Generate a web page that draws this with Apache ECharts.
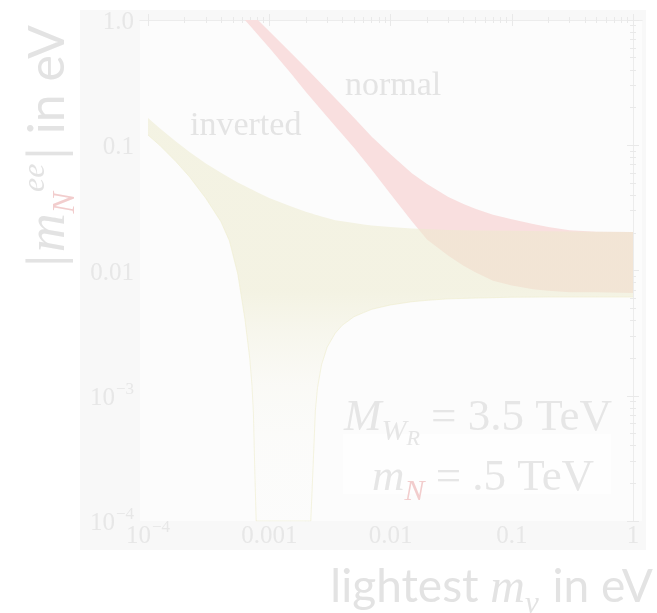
<!DOCTYPE html>
<html>
<head>
<meta charset="utf-8">
<script src="https://cdn.jsdelivr.net/npm/echarts@6/dist/echarts.min.js"></script>
<style>
  html, body { margin: 0; padding: 0; background: #ffffff; }
  #chart { width: 657px; height: 613px; }
</style>
</head>
<body>
<div id="chart"></div>
<script>
// Lightest neutrino mass (eV) sampled along the inverted-ordering band
const invertedMass = [1e-4, 1.25e-4, 1.7e-4, 2.2e-4, 3e-4, 4e-4, 4.7e-4, 5.5e-4, 6.3e-4, 6.9e-4,
  7.2e-4, 7.4e-4, 7.6e-4, 7.8e-4, 1e-3, 1.5e-3, 2e-3, 2.1e-3, 2.2e-3, 2.25e-3,
  2.3e-3, 2.4e-3, 2.5e-3, 2.7e-3, 3e-3, 3.5e-3, 4e-3, 5e-3, 6e-3, 7e-3,
  0.01, 0.015, 0.02, 0.03, 0.05, 0.1, 0.2, 0.5, 1];
// |m_N^ee| upper and lower edges (eV), inverted ordering
const invertedUpper = [0.1651, 0.1370, 0.1072, 0.0883, 0.0715, 0.0604, 0.0549, 0.0505, 0.0473, 0.0452,
  0.0443, 0.0438, 0.0432, 0.0426, 0.0380, 0.0326, 0.0295, 0.0290, 0.0286, 0.0285,
  0.0283, 0.0279, 0.0276, 0.0270, 0.0262, 0.0252, 0.0247, 0.0239, 0.0233, 0.0229,
  0.0222, 0.0216, 0.0214, 0.0211, 0.0209, 0.0208, 0.0206, 0.0204, 0.0203];
const invertedLower = [0.1207, 0.0999, 0.0741, 0.0560, 0.0377, 0.0245, 0.0172, 0.0094, 0.0041, 0.0020,
  0.00121, 0.00073, 0.00025, 1e-4, 1e-4, 1e-4, 1e-4, 1e-4, 1e-4, 1e-4,
  0.000275, 0.00076, 0.00116, 0.00177, 0.00244, 0.00316, 0.00365, 0.00428, 0.00461, 0.00490,
  0.00531, 0.00563, 0.00578, 0.00594, 0.00602, 0.00612, 0.00614, 0.00614, 0.00614];

// Lightest neutrino mass (eV) sampled along the normal-ordering band
const normalMass = [5e-4, 7e-4, 1e-3, 1.5e-3, 2e-3, 3e-3, 4e-3, 5e-3, 7e-3, 0.01,
  0.015, 0.02, 0.03, 0.04, 0.05, 0.07, 0.1, 0.15, 0.2, 0.3, 0.5, 1];
const normalUpper = [1.58, 1.148, 0.813, 0.549, 0.415, 0.277, 0.208, 0.166, 0.117, 0.0848,
  0.0597, 0.0491, 0.0387, 0.0340, 0.0311, 0.0279, 0.0257, 0.0235, 0.0222, 0.0210, 0.0204, 0.0203];
const normalLower = [1.29, 0.891, 0.601, 0.377, 0.268, 0.169, 0.1225, 0.0953, 0.0637, 0.0409,
  0.0247, 0.0177, 0.0131, 0.0109, 0.0097, 0.0083, 0.0076, 0.0071, 0.0069, 0.0067, 0.0067, 0.0066];

// Decade ticks and their labels
const xMajorTicks = [1e-4, 1e-3, 0.01, 0.1, 1];
const xTickLabels = ['10^\u22124', '0.001', '0.01', '0.1', '1'];
const yMajorTicks = [1e-4, 1e-3, 0.01, 0.1, 1];
const yTickLabels = ['10^\u22124', '10^\u22123', '0.01', '0.1', '1.0'];

const lg = Math.log10;
// both axes run in log10 space; the mass axis has a little room on either side
const X_MIN = lg(1e-4) - 0.066, X_MAX = lg(1) + 0.074;
const Y_MIN = lg(1e-4), Y_MAX = lg(1);

function minorTicks(lo, hi) {
  const out = [];
  for (let e = lo; e < hi; e++) for (let k = 2; k <= 9; k++) out.push(lg(k) + e);
  return out;
}

const TICK_COLOR = '#e9e9e9';
const LABEL_COLOR = '#e7e7e7';
const TITLE_COLOR = '#e3e3e3';
const PINK_TEXT = '#f2cdcd';
const SERIF = '"Liberation Serif", "DejaVu Serif", serif';
const SANS = 'Lato, "Open Sans", sans-serif';

function tickText(labels, majors) {
  return function (v) {
    for (let i = 0; i < majors.length; i++) {
      if (Math.abs(lg(majors[i]) - v) < 1e-6) {
        const s = labels[i];
        const m = /^10\^(.+)$/.exec(s);
        return m ? '{b|10}{s|' + m[1] + '}' : '{b|' + s + '}';
      }
    }
    return '';
  };
}
const tickRich = {
  b: { fontFamily: SERIF, fontSize: 25, color: LABEL_COLOR, verticalAlign: 'top', padding: [5, 0, 0, 0] },
  s: { fontFamily: SERIF, fontSize: 17, color: LABEL_COLOR, verticalAlign: 'top', padding: [0, 0, 0, 1] }
};

function axisX(position, ticks, len, line, label) {
  return {
    type: 'value', position: position, min: X_MIN, max: X_MAX,
    splitLine: { show: false },
    axisLine: { show: line, lineStyle: { color: '#ececec', width: 1 } },
    axisTick: { show: true, inside: true, length: len, customValues: ticks, lineStyle: { color: TICK_COLOR } },
    axisLabel: label ? {
      show: true, customValues: xMajorTicks.map(lg), margin: -2,
      formatter: tickText(xTickLabels, xMajorTicks), rich: tickRich
    } : { show: false }
  };
}
function axisY(position, ticks, len, line, label) {
  return {
    type: 'value', position: position, min: Y_MIN, max: Y_MAX,
    splitLine: { show: false },
    axisLine: { show: line, lineStyle: { color: '#ececec', width: 1 } },
    axisTick: { show: true, inside: true, length: len, customValues: ticks, lineStyle: { color: TICK_COLOR } },
    axisLabel: label ? {
      show: true, customValues: yMajorTicks.map(lg), margin: 6,
      formatter: tickText(yTickLabels, yMajorTicks), rich: tickRich
    } : { show: false }
  };
}

// a filled region between an upper and a lower edge, placed through the axes
function band(name, mass, upper, lower, fill, z) {
  return {
    type: 'custom', name: name, coordinateSystem: 'cartesian2d', clip: true, silent: true, z: z,
    data: [[lg(mass[0]), lg(upper[0])]],
    renderItem: function (params, api) {
      const pts = [];
      for (let i = 0; i < mass.length; i++) pts.push(api.coord([lg(mass[i]), lg(upper[i])]));
      for (let i = mass.length - 1; i >= 0; i--) pts.push(api.coord([lg(mass[i]), lg(lower[i])]));
      return { type: 'polygon', shape: { points: pts }, style: { fill: fill } };
    }
  };
}

// the scatter thins out towards the cancellation funnel, so the fill fades downwards
const invertedFill = new echarts.graphic.LinearGradient(0, 0, 0, 1, [
  { offset: 0, color: 'rgba(236,234,204,0.52)' },
  { offset: 0.43, color: 'rgba(236,234,204,0.52)' },
  { offset: 0.53, color: 'rgba(236,234,204,0.32)' },
  { offset: 0.66, color: 'rgba(236,234,204,0.13)' },
  { offset: 0.8, color: 'rgba(236,234,204,0.05)' },
  { offset: 1, color: 'rgba(236,234,204,0.02)' }
]);

function richText(fill, family, size, style, pad) {
  return { fill: fill, fontFamily: family, fontSize: size, fontStyle: style || 'normal', verticalAlign: 'top', padding: pad };
}

const chart = echarts.init(document.getElementById('chart'), null, { renderer: 'canvas' });
chart.setOption({
  animation: false,
  backgroundColor: '#ffffff',
  grid: { left: 140, right: 15, top: 20, bottom: 92, show: true, backgroundColor: '#fcfcfc', borderWidth: 0 },
  xAxis: [
    axisX('bottom', xMajorTicks.map(lg), 6, true, true),
    axisX('bottom', minorTicks(-4, 0), 3, false, false),
    axisX('top', xMajorTicks.map(lg), 6, true, false),
    axisX('top', minorTicks(-4, 0), 3, false, false)
  ],
  yAxis: [
    axisY('left', yMajorTicks.map(lg), 6, true, true),
    axisY('left', minorTicks(-4, 0), 3, false, false),
    axisY('right', yMajorTicks.map(lg), 6, true, false),
    axisY('right', minorTicks(-4, 0), 3, false, false)
  ],
  series: [
    band('normal', normalMass, normalUpper, normalLower, 'rgb(249,223,223)', 2),
    band('inverted', invertedMass, invertedUpper, invertedLower, invertedFill, 3),
    {
      type: 'line', name: 'inverted edge', silent: true, z: 4, showSymbol: false,
      data: invertedMass.map((m, i) => [lg(m), lg(invertedLower[i])]),
      lineStyle: { color: 'rgba(238,236,205,0.6)', width: 1 }
    }
  ],
  graphic: [
    { type: 'rect', z: -10, silent: true, shape: { x: 80, y: 10, width: 566, height: 540 }, style: { fill: '#f8f8f8' } },
    { type: 'rect', z: 5, silent: true, shape: { x: 343, y: 434, width: 268, height: 60 }, style: { fill: 'rgba(255,255,255,0.5)' } },
    {
      type: 'text', z: 10, silent: true, x: 190, y: 126.5,
      style: { text: 'inverted', font: '34px ' + SERIF, fill: '#e4e4e4', align: 'left', verticalAlign: 'middle' }
    },
    {
      type: 'text', z: 10, silent: true, x: 345, y: 86.5,
      style: { text: 'normal', font: '34px ' + SERIF, fill: '#e4e4e4', align: 'left', verticalAlign: 'middle' }
    },
    {
      // vertical axis title
      type: 'text', z: 10, silent: true, x: 51, y: 146, rotation: Math.PI / 2,
      style: {
        text: '{a||}{m|m}{n|N}{e|ee}{a|| in eV}', align: 'center', verticalAlign: 'middle',
        rich: {
          a: richText(TITLE_COLOR, SANS, 50, 'normal', [3, 0, 0, 0]),
          m: richText(TITLE_COLOR, SERIF, 54, 'italic', [3, 0, 0, 2]),
          n: richText(PINK_TEXT, SERIF, 32, 'italic', [30, 0, 0, 0]),
          e: richText(TITLE_COLOR, SERIF, 32, 'italic', [0, 4, 0, 0])
        }
      }
    },
    {
      // horizontal axis title
      type: 'text', z: 10, silent: true, x: 653, y: 592,
      style: {
        text: '{a|lightest }{m|m}{n|\u03bd}{a| in eV}', align: 'right', verticalAlign: 'middle',
        rich: {
          a: richText(TITLE_COLOR, SANS, 46, 'normal', [0, 0, 0, 0]),
          m: richText(TITLE_COLOR, SERIF, 48, 'italic', [1, 0, 0, 0]),
          n: richText(TITLE_COLOR, SERIF, 31, 'italic', [25, 2, 0, 0])
        }
      }
    },
    {
      type: 'text', z: 10, silent: true, x: 478, y: 396,
      style: {
        text: '{M|M}{W|W}{R|R}{r| = 3.5 TeV}', align: 'center', verticalAlign: 'top',
        rich: {
          M: richText('#e6e6e6', SERIF, 45, 'italic', [0, 0, 0, 0]),
          W: richText('#e6e6e6', SERIF, 30, 'italic', [21, 0, 0, 0]),
          R: richText('#e6e6e6', SERIF, 22, 'italic', [32, 0, 0, 0]),
          r: richText('#e6e6e6', SERIF, 45, 'normal', [0, 0, 0, 0])
        }
      }
    },
    {
      type: 'text', z: 10, silent: true, x: 483, y: 456,
      style: {
        text: '{m|m}{N|N}{r| = .5 TeV}', align: 'center', verticalAlign: 'top',
        rich: {
          m: richText('#e6e6e6', SERIF, 45, 'italic', [0, 0, 0, 0]),
          N: richText(PINK_TEXT, SERIF, 30, 'italic', [21, 0, 0, 0]),
          r: richText('#e6e6e6', SERIF, 45, 'normal', [0, 0, 0, 0])
        }
      }
    }
  ]
});
</script>
</body>
</html>
